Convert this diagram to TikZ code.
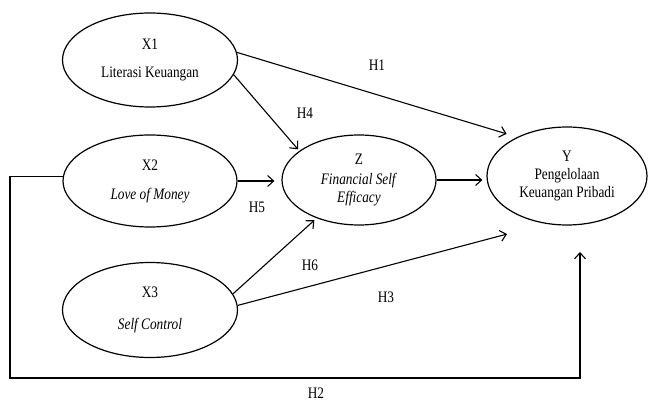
\documentclass[tikz,border=0pt]{standalone}
\usepackage{fontspec}
\setmainfont{Liberation Serif}[FakeStretch=0.83]
\usetikzlibrary{arrows.meta,calc,shapes.geometric}
\begin{document}
\begin{tikzpicture}[x=1pt,y=-1pt,
  var/.style={draw,ellipse,line width=1.2pt,inner sep=0pt,align=center,font=\fontsize{16}{18}\selectfont},
  lbl/.style={font=\fontsize{16}{18}\selectfont,inner sep=0pt},
  arr/.style={line width=1.1pt,-{Straight Barb[length=6pt,width=11pt,line width=1.1pt]}}]
\useasboundingbox (0,0) rectangle (650,403);
\node[var,minimum width=175pt,minimum height=94pt] (X1) at (150,60) {X1\\[10pt]Literasi Keuangan};
\node[var,minimum width=174pt,minimum height=92pt] (X2) at (150,181) {X2\\[11pt]\textit{Love of Money}};
\node[var,minimum width=175pt,minimum height=95pt] (X3) at (150,310) {X3\\[14pt]\textit{Self Control}};
\node[var,minimum width=154pt,minimum height=90pt] (Z) at (359,180) {Z\\[2pt]\textit{Financial Self}\\\textit{Efficacy}};
\node[var,minimum width=160pt,minimum height=98pt] (Y) at (567,176) {Y\\Pengelolaan\\Keuangan Pribadi};
\coordinate (h2bl) at (10,378);
\coordinate (h2tip) at (580,252);
\draw[arr,shorten >=11pt] (X1.5) -- (Y.142);
\draw[arr,shorten >=2pt] (X1.-10) -- (Z.154);
\draw[arr,shorten >=7pt] (X2.east) -- (X2.east -| Z.west);
\draw[arr,shorten >=3pt] (X3.11) -- (Z.222);
\draw[arr,shorten >=40pt] (X3.3) -- (Y.-114);
\draw[arr,shorten >=4pt] (Z.east) -- (Z.east -| Y.west);
\draw[arr] (X2.177) -| (h2bl) -| (h2tip);
\node[lbl] (H1) at (377,65) {H1};
\node[lbl] (H4) at (305,113) {H4};
\node[lbl] (H5) at (257,207) {H5};
\node[lbl] (H6) at (310,265) {H6};
\node[lbl] (H3) at (386,297) {H3};
\node[lbl] (H2) at (316,393) {H2};
\end{tikzpicture}
\end{document}
